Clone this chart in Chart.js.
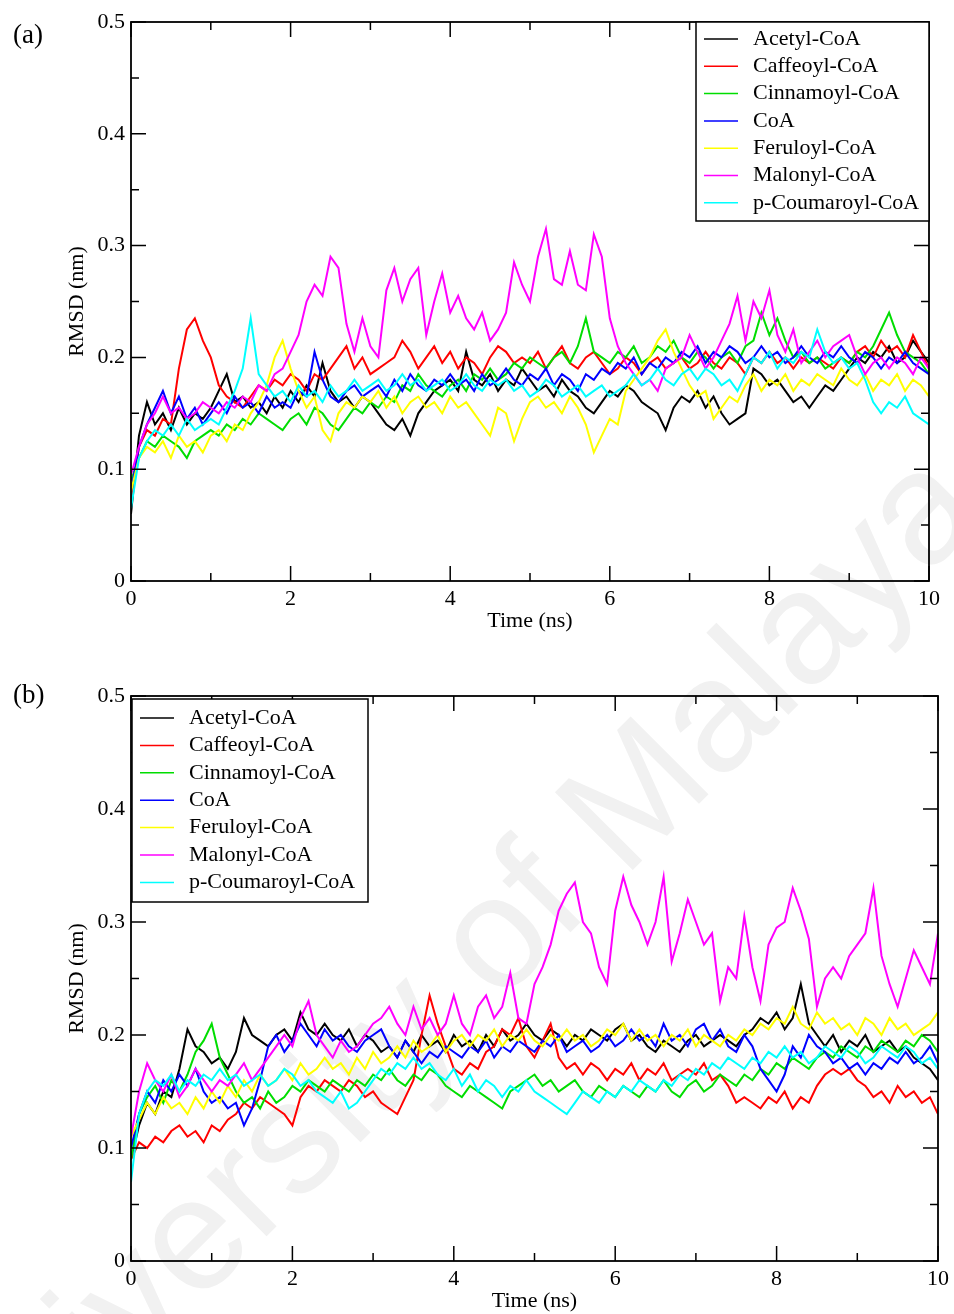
<!DOCTYPE html>
<html>
<head>
<meta charset="utf-8">
<script src="https://cdn.jsdelivr.net/npm/chart.js@4.4.1/dist/chart.umd.min.js"></script>
<style>
  html, body { margin: 0; padding: 0; background: #fff; }
  #page { position: relative; width: 954px; height: 1314px; overflow: hidden; }
  .panel { position: absolute; left: 0; width: 954px; }
  #wm {
    position: absolute; left: 440px; top: 985px;
    transform: translate(-50%, -50%) rotate(-45deg);
    font: 160px 'Liberation Sans', Arial, sans-serif;
    color: #f1f1f1; white-space: nowrap; line-height: 1;
  }
</style>
</head>
<body>
<div id="page">
  <div id="wm">University of Malaya</div>
  <div class="panel" style="top:0;height:640px"><canvas id="chartA"></canvas></div>
  <div class="panel" style="top:660px;height:654px"><canvas id="chartB"></canvas></div>
</div>
<script>
const names = ['Acetyl-CoA', 'Caffeoyl-CoA', 'Cinnamoyl-CoA', 'CoA', 'Feruloyl-CoA', 'Malonyl-CoA', 'p-Coumaroyl-CoA'];
const colors = ['#000000', '#ff0000', '#00dd00', '#0000ff', '#ffff00', '#ff00ff', '#00ffff'];

const xMajor = [0, 2, 4, 6, 8, 10];
const xMinor = [1, 3, 5, 7, 9];
const yMajor = [0, 0.1, 0.2, 0.3, 0.4, 0.5];
const yMinor = [0.05, 0.15, 0.25, 0.35, 0.45];

// time (ns)
const time = [
  0, 0.1, 0.2, 0.3, 0.4, 0.5, 0.6, 0.7, 0.8, 0.9,
  1, 1.1, 1.2, 1.3, 1.4, 1.5, 1.6, 1.7, 1.8, 1.9,
  2, 2.1, 2.2, 2.3, 2.4, 2.5, 2.6, 2.7, 2.8, 2.9,
  3, 3.1, 3.2, 3.3, 3.4, 3.5, 3.6, 3.7, 3.8, 3.9,
  4, 4.1, 4.2, 4.3, 4.4, 4.5, 4.6, 4.7, 4.8, 4.9,
  5, 5.1, 5.2, 5.3, 5.4, 5.5, 5.6, 5.7, 5.8, 5.9,
  6, 6.1, 6.2, 6.3, 6.4, 6.5, 6.6, 6.7, 6.8, 6.9,
  7, 7.1, 7.2, 7.3, 7.4, 7.5, 7.6, 7.7, 7.8, 7.9,
  8, 8.1, 8.2, 8.3, 8.4, 8.5, 8.6, 8.7, 8.8, 8.9,
  9, 9.1, 9.2, 9.3, 9.4, 9.5, 9.6, 9.7, 9.8, 9.9,
  10
];

// panel (a) RMSD (nm)
const acetylA = [
  0.06, 0.13, 0.16, 0.14, 0.15, 0.135, 0.155, 0.14, 0.15, 0.145,
  0.155, 0.17, 0.185, 0.16, 0.165, 0.155, 0.16, 0.15, 0.165, 0.155,
  0.17, 0.16, 0.175, 0.165, 0.195, 0.17, 0.16, 0.165, 0.155, 0.165,
  0.16, 0.15, 0.14, 0.135, 0.145, 0.13, 0.15, 0.16, 0.17, 0.175,
  0.18, 0.17, 0.205, 0.18, 0.175, 0.185, 0.17, 0.18, 0.175, 0.19,
  0.18, 0.17, 0.175, 0.165, 0.18, 0.17, 0.165, 0.155, 0.15, 0.16,
  0.17, 0.165, 0.175, 0.17, 0.16, 0.155, 0.15, 0.135, 0.155, 0.165,
  0.16, 0.17, 0.155, 0.165, 0.15, 0.14, 0.145, 0.15, 0.19, 0.185,
  0.175, 0.18, 0.17, 0.16, 0.165, 0.155, 0.165, 0.175, 0.17, 0.18,
  0.19, 0.2, 0.195, 0.205, 0.2, 0.21, 0.195, 0.2, 0.215, 0.205,
  0.195
];
const caffeoylA = [
  0.07, 0.12, 0.135, 0.13, 0.145, 0.14, 0.19, 0.225, 0.235, 0.215,
  0.2, 0.175, 0.165, 0.16, 0.155, 0.165, 0.175, 0.17, 0.18, 0.175,
  0.185, 0.18, 0.17, 0.185, 0.18, 0.19, 0.2, 0.21, 0.19, 0.2,
  0.185, 0.19, 0.195, 0.2, 0.215, 0.205, 0.19, 0.2, 0.21, 0.195,
  0.205, 0.19, 0.2, 0.195, 0.185, 0.2, 0.21, 0.205, 0.195, 0.2,
  0.195, 0.205, 0.19, 0.2, 0.21, 0.195, 0.19, 0.2, 0.205, 0.195,
  0.185, 0.19, 0.2, 0.195, 0.185, 0.195, 0.2, 0.19, 0.195, 0.2,
  0.19, 0.195, 0.205, 0.195, 0.19, 0.2, 0.195, 0.185, 0.2, 0.195,
  0.205, 0.195, 0.2, 0.19, 0.2, 0.195, 0.2, 0.195, 0.19, 0.2,
  0.195, 0.205, 0.21, 0.2, 0.215, 0.205, 0.21, 0.2, 0.22, 0.205,
  0.19
];
const cinnamoylA = [
  0.09, 0.11, 0.125, 0.12, 0.13, 0.125, 0.12, 0.11, 0.125, 0.13,
  0.135, 0.13, 0.14, 0.135, 0.145, 0.14, 0.15, 0.145, 0.14, 0.135,
  0.145, 0.15, 0.14, 0.155, 0.15, 0.14, 0.135, 0.145, 0.155, 0.15,
  0.16, 0.155, 0.165, 0.16, 0.175, 0.17, 0.185, 0.175, 0.17, 0.165,
  0.175, 0.18, 0.17, 0.185, 0.18, 0.19, 0.18, 0.185, 0.195, 0.19,
  0.2, 0.195, 0.19, 0.2, 0.205, 0.195, 0.21, 0.235, 0.205, 0.2,
  0.195, 0.205, 0.2, 0.21, 0.195, 0.2, 0.21, 0.205, 0.215, 0.2,
  0.195, 0.205, 0.2, 0.19, 0.2, 0.205, 0.195, 0.21, 0.215, 0.24,
  0.22, 0.235, 0.215, 0.2, 0.205, 0.195, 0.2, 0.19, 0.195, 0.2,
  0.195, 0.205, 0.2, 0.21, 0.225, 0.24, 0.22, 0.205, 0.2, 0.195,
  0.185
];
const coaA = [
  0.08, 0.12, 0.14, 0.155, 0.17, 0.15, 0.165, 0.145, 0.155, 0.14,
  0.15, 0.16, 0.15, 0.165, 0.155, 0.16, 0.15, 0.165, 0.155, 0.16,
  0.155, 0.17, 0.165, 0.205, 0.18, 0.165, 0.16, 0.17, 0.175, 0.165,
  0.17, 0.175, 0.165, 0.18, 0.17, 0.185, 0.175, 0.17, 0.18, 0.175,
  0.185, 0.175, 0.18, 0.17, 0.185, 0.175, 0.18, 0.19, 0.18, 0.175,
  0.185, 0.18, 0.19, 0.175, 0.185, 0.18, 0.17, 0.185, 0.18, 0.19,
  0.185, 0.195, 0.19, 0.2, 0.185, 0.195, 0.19, 0.2, 0.195, 0.205,
  0.2, 0.21, 0.195, 0.205, 0.2, 0.21, 0.205, 0.195, 0.2, 0.21,
  0.2, 0.205, 0.195, 0.2, 0.21, 0.2, 0.195, 0.205, 0.2, 0.21,
  0.2, 0.195, 0.205, 0.2, 0.19, 0.2, 0.195, 0.205, 0.195, 0.19,
  0.185
];
const feruloylA = [
  0.08, 0.11, 0.12, 0.115, 0.125, 0.11, 0.13, 0.12, 0.125, 0.115,
  0.13, 0.135, 0.125, 0.14, 0.135, 0.15, 0.16, 0.175, 0.2, 0.215,
  0.19, 0.17, 0.155, 0.165, 0.135, 0.125, 0.15, 0.16, 0.155, 0.165,
  0.16, 0.17, 0.155, 0.165, 0.15, 0.16, 0.165, 0.155, 0.16, 0.15,
  0.165, 0.155, 0.16, 0.15, 0.14, 0.13, 0.155, 0.15, 0.125, 0.145,
  0.16, 0.165, 0.155, 0.16, 0.15, 0.165, 0.155, 0.14, 0.115, 0.13,
  0.145, 0.14, 0.17, 0.18, 0.19, 0.2, 0.215, 0.225, 0.205, 0.19,
  0.175, 0.165, 0.17, 0.145, 0.155, 0.165, 0.16, 0.175, 0.185, 0.17,
  0.18, 0.175, 0.185, 0.17, 0.18, 0.175, 0.185, 0.18, 0.175, 0.19,
  0.18, 0.175, 0.185, 0.17, 0.18, 0.175, 0.185, 0.17, 0.18, 0.175,
  0.165
];
const malonylA = [
  0.095, 0.12, 0.14, 0.15, 0.165, 0.15, 0.155, 0.145, 0.15, 0.16,
  0.155, 0.15, 0.16, 0.155, 0.165, 0.16, 0.175, 0.17, 0.185, 0.19,
  0.205, 0.22, 0.25, 0.265, 0.255, 0.29, 0.28, 0.23, 0.205, 0.235,
  0.21, 0.2, 0.26, 0.28, 0.25, 0.27, 0.28, 0.22, 0.25, 0.275,
  0.24, 0.255, 0.235, 0.225, 0.24, 0.215, 0.225, 0.24, 0.285, 0.265,
  0.25, 0.29, 0.315, 0.27, 0.265, 0.295, 0.265, 0.26, 0.31, 0.29,
  0.235, 0.21, 0.195, 0.185, 0.175, 0.18, 0.17, 0.19, 0.195, 0.2,
  0.22, 0.205, 0.19, 0.2, 0.215, 0.23, 0.255, 0.215, 0.25, 0.235,
  0.26, 0.22, 0.205, 0.225, 0.195, 0.205, 0.215, 0.2, 0.21, 0.215,
  0.22, 0.2, 0.185, 0.195, 0.2, 0.19, 0.2, 0.195, 0.185, 0.2,
  0.19
];
const coumaroylA = [
  0.065, 0.11, 0.125, 0.135, 0.13, 0.14, 0.13, 0.145, 0.135, 0.14,
  0.145, 0.14, 0.155, 0.17, 0.19, 0.235, 0.185, 0.175, 0.165, 0.17,
  0.16, 0.175, 0.165, 0.17, 0.16, 0.175, 0.165, 0.17, 0.18, 0.17,
  0.175, 0.18, 0.17, 0.175, 0.185, 0.175, 0.18, 0.17, 0.175, 0.18,
  0.17, 0.175, 0.185, 0.175, 0.17, 0.18, 0.175, 0.18, 0.17, 0.175,
  0.165, 0.17, 0.18, 0.175, 0.165, 0.17, 0.175, 0.165, 0.17, 0.175,
  0.165, 0.17, 0.175, 0.185, 0.175, 0.18, 0.19, 0.18, 0.175, 0.185,
  0.19, 0.18, 0.19, 0.185, 0.175, 0.18, 0.17, 0.185, 0.2, 0.195,
  0.205, 0.19, 0.2, 0.195, 0.205, 0.2, 0.225, 0.205, 0.195, 0.2,
  0.19, 0.195, 0.18, 0.16, 0.15, 0.16, 0.155, 0.165, 0.15, 0.145,
  0.14
];

// panel (b) RMSD (nm)
const acetylB = [
  0.09, 0.12, 0.14, 0.13, 0.15, 0.145, 0.17, 0.205, 0.19, 0.185,
  0.175, 0.18, 0.17, 0.185, 0.215, 0.2, 0.195, 0.19, 0.2, 0.205,
  0.195, 0.22, 0.205, 0.2, 0.21, 0.2, 0.195, 0.205, 0.19, 0.2,
  0.195, 0.185, 0.19, 0.18, 0.195, 0.185, 0.2, 0.19, 0.195, 0.185,
  0.2, 0.19, 0.195, 0.185, 0.2, 0.19, 0.205, 0.195, 0.2, 0.21,
  0.2, 0.195, 0.205, 0.2, 0.19, 0.2, 0.195, 0.205, 0.2, 0.195,
  0.205, 0.21, 0.195, 0.2, 0.19, 0.185, 0.195, 0.19, 0.185, 0.195,
  0.2, 0.19, 0.195, 0.2, 0.195, 0.19, 0.2, 0.205, 0.215, 0.21,
  0.22, 0.205, 0.215, 0.245, 0.21, 0.2, 0.19, 0.2, 0.185, 0.195,
  0.19, 0.2, 0.185, 0.19, 0.195, 0.185, 0.19, 0.18, 0.175, 0.17,
  0.16
];
const caffeoylB = [
  0.09, 0.105, 0.1, 0.11, 0.105, 0.115, 0.12, 0.11, 0.115, 0.105,
  0.12, 0.115, 0.125, 0.13, 0.14, 0.135, 0.145, 0.14, 0.135, 0.13,
  0.12, 0.145, 0.155, 0.15, 0.16, 0.155, 0.15, 0.16, 0.155, 0.145,
  0.15, 0.14, 0.135, 0.13, 0.145, 0.16, 0.2, 0.235, 0.21, 0.19,
  0.17, 0.165, 0.175, 0.17, 0.185, 0.19, 0.205, 0.2, 0.215, 0.19,
  0.18, 0.195, 0.21, 0.18, 0.17, 0.175, 0.165, 0.175, 0.17, 0.16,
  0.17, 0.165, 0.175, 0.16, 0.17, 0.165, 0.175, 0.16, 0.165, 0.17,
  0.165, 0.175, 0.16, 0.165, 0.155, 0.14, 0.145, 0.14, 0.135, 0.145,
  0.14, 0.15, 0.135, 0.145, 0.14, 0.155, 0.165, 0.17, 0.165, 0.17,
  0.16, 0.155, 0.145, 0.15, 0.14, 0.155, 0.145, 0.15, 0.14, 0.145,
  0.13
];
const cinnamoylB = [
  0.09, 0.13, 0.145, 0.155, 0.14, 0.16, 0.15, 0.165, 0.185, 0.195,
  0.21, 0.18, 0.165, 0.15, 0.14, 0.145, 0.135, 0.15, 0.14, 0.145,
  0.155, 0.15, 0.16, 0.155, 0.15, 0.16, 0.155, 0.15, 0.16, 0.155,
  0.165, 0.16, 0.17, 0.16, 0.155, 0.165, 0.16, 0.17, 0.165, 0.155,
  0.15, 0.145, 0.155, 0.15, 0.145, 0.14, 0.135, 0.15, 0.155, 0.16,
  0.165, 0.155, 0.16, 0.15, 0.155, 0.16, 0.15, 0.145, 0.155, 0.15,
  0.145, 0.155, 0.15, 0.145, 0.155, 0.15, 0.16, 0.15, 0.145, 0.155,
  0.16, 0.15, 0.155, 0.165, 0.16, 0.155, 0.165, 0.16, 0.17, 0.165,
  0.175, 0.17, 0.18, 0.175, 0.17, 0.18, 0.185, 0.18, 0.19, 0.185,
  0.18, 0.19, 0.185, 0.195, 0.19, 0.185, 0.195, 0.19, 0.2, 0.195,
  0.185
];
const coaB = [
  0.1, 0.13, 0.15, 0.14, 0.16, 0.15, 0.165, 0.155, 0.17, 0.15,
  0.14, 0.145, 0.135, 0.14, 0.12, 0.135, 0.16, 0.19, 0.2, 0.185,
  0.195, 0.21, 0.2, 0.19, 0.205, 0.195, 0.2, 0.19, 0.185, 0.195,
  0.2, 0.205, 0.19, 0.18, 0.195, 0.185, 0.175, 0.185, 0.18, 0.19,
  0.185, 0.18, 0.19, 0.185, 0.195, 0.18, 0.19, 0.185, 0.195, 0.19,
  0.185, 0.195, 0.19, 0.2, 0.185, 0.19, 0.195, 0.185, 0.19, 0.2,
  0.19, 0.195, 0.205, 0.195, 0.2, 0.19, 0.21, 0.195, 0.2, 0.19,
  0.205, 0.21, 0.195, 0.205, 0.19, 0.185, 0.2, 0.19, 0.17, 0.16,
  0.15, 0.165, 0.19, 0.18, 0.2, 0.19, 0.185, 0.175, 0.18, 0.17,
  0.175, 0.165, 0.175, 0.17, 0.18, 0.175, 0.185, 0.175, 0.18, 0.19,
  0.175
];
const feruloylB = [
  0.11, 0.125, 0.14, 0.13, 0.145, 0.135, 0.14, 0.13, 0.145, 0.135,
  0.15, 0.14, 0.155, 0.145, 0.16, 0.15, 0.165, 0.155, 0.16, 0.17,
  0.16, 0.175, 0.165, 0.17, 0.18, 0.17, 0.175, 0.165, 0.18, 0.17,
  0.185, 0.175, 0.18, 0.19, 0.18, 0.195, 0.185, 0.19, 0.2, 0.185,
  0.195, 0.2, 0.19, 0.2, 0.195, 0.205, 0.19, 0.2, 0.195, 0.205,
  0.195, 0.19, 0.2, 0.195, 0.205, 0.195, 0.2, 0.19, 0.195, 0.205,
  0.2, 0.21, 0.195, 0.205, 0.195, 0.2, 0.19, 0.2, 0.195, 0.205,
  0.19, 0.2, 0.195, 0.19, 0.2, 0.195, 0.205, 0.2, 0.21, 0.205,
  0.215, 0.21, 0.225, 0.21, 0.205, 0.22, 0.21, 0.215, 0.205, 0.21,
  0.2, 0.215, 0.21, 0.2, 0.215, 0.205, 0.21, 0.2, 0.205, 0.21,
  0.22
];
const malonylB = [
  0.11, 0.15, 0.175, 0.16, 0.15, 0.165, 0.145, 0.155, 0.17, 0.16,
  0.15, 0.16, 0.155, 0.165, 0.175, 0.16, 0.17, 0.18, 0.19, 0.2,
  0.19, 0.215, 0.23, 0.2, 0.19, 0.18, 0.195, 0.185, 0.19, 0.2,
  0.21, 0.215, 0.225, 0.21, 0.2, 0.225, 0.205, 0.215, 0.2, 0.21,
  0.235, 0.21, 0.2, 0.225, 0.235, 0.215, 0.225, 0.255, 0.215, 0.21,
  0.245, 0.26, 0.28, 0.31, 0.325, 0.335, 0.3, 0.29, 0.26, 0.245,
  0.31, 0.34, 0.315, 0.3, 0.28, 0.3, 0.34, 0.265, 0.29, 0.32,
  0.3, 0.28, 0.29, 0.23, 0.26, 0.25, 0.305, 0.26, 0.23, 0.28,
  0.295, 0.3, 0.33, 0.31, 0.285, 0.225, 0.25, 0.26, 0.25, 0.27,
  0.28, 0.29, 0.33, 0.27, 0.245, 0.225, 0.25, 0.275, 0.26, 0.245,
  0.29
];
const coumaroylB = [
  0.07, 0.13, 0.15, 0.16, 0.155, 0.165, 0.15, 0.16, 0.155, 0.165,
  0.16, 0.17, 0.16, 0.165, 0.155, 0.16, 0.165, 0.155, 0.16, 0.17,
  0.165, 0.155, 0.16, 0.15, 0.145, 0.14, 0.15, 0.135, 0.14, 0.15,
  0.16, 0.17, 0.165, 0.175, 0.17, 0.18, 0.17, 0.175, 0.165, 0.16,
  0.17, 0.155, 0.165, 0.15, 0.16, 0.155, 0.145, 0.155, 0.15, 0.16,
  0.15, 0.145, 0.14, 0.135, 0.13, 0.14, 0.15, 0.145, 0.14, 0.15,
  0.145, 0.155, 0.15, 0.16, 0.155, 0.15, 0.16, 0.155, 0.165, 0.16,
  0.17, 0.165, 0.175, 0.17, 0.18, 0.175, 0.17, 0.18, 0.175, 0.185,
  0.18, 0.19, 0.18, 0.185, 0.175, 0.18, 0.19, 0.185, 0.18, 0.19,
  0.185, 0.175, 0.18, 0.19, 0.185, 0.18, 0.19, 0.185, 0.175, 0.18,
  0.17
];

const serif = "'Liberation Serif', 'Times New Roman', serif";
const font = { family: serif, size: 22 };

// frame with inward ticks, boxed legend and panel tag
const decor = {
  id: 'decor',
  afterDatasetsDraw(chart, args, o) {
    const { ctx, chartArea: a, scales: { x, y } } = chart;
    ctx.save();
    ctx.strokeStyle = '#000';
    ctx.lineWidth = 1.5;
    ctx.beginPath();
    const xTick = (v, len) => {
      const p = x.getPixelForValue(v);
      ctx.moveTo(p, a.bottom); ctx.lineTo(p, a.bottom - len);
      ctx.moveTo(p, a.top); ctx.lineTo(p, a.top + len);
    };
    const yTick = (v, len) => {
      const p = y.getPixelForValue(v);
      ctx.moveTo(a.left, p); ctx.lineTo(a.left + len, p);
      ctx.moveTo(a.right, p); ctx.lineTo(a.right - len, p);
    };
    xMajor.forEach(v => xTick(v, 15));
    xMinor.forEach(v => xTick(v, 8));
    yMajor.forEach(v => yTick(v, 15));
    yMinor.forEach(v => yTick(v, 8));
    ctx.stroke();
    ctx.lineWidth = 1.8;
    ctx.strokeRect(a.left, a.top, a.right - a.left, a.bottom - a.top);

    const lg = o.legend;
    const bx = lg.right ? a.right - lg.w : a.left + 1;
    const by = a.top + lg.dy;
    ctx.fillStyle = '#fff';
    ctx.fillRect(bx, by, lg.w, lg.h);
    ctx.lineWidth = 1.5;
    ctx.strokeStyle = '#000';
    ctx.strokeRect(bx, by, lg.w, lg.h);
    ctx.font = `22px ${serif}`;
    ctx.textBaseline = 'middle';
    ctx.textAlign = 'left';
    chart.data.datasets.forEach((ds, i) => {
      const ry = by + lg.first + i * lg.step;
      ctx.strokeStyle = ds.borderColor;
      ctx.beginPath();
      ctx.moveTo(bx + 8, ry);
      ctx.lineTo(bx + 42, ry);
      ctx.stroke();
      ctx.fillStyle = '#000';
      ctx.fillText(ds.label, bx + 57, ry);
    });

    ctx.font = `27px ${serif}`;
    ctx.fillStyle = '#000';
    ctx.fillText(o.tag, 13, 36);
    ctx.restore();
  }
};

function makeChart(id, series, opt) {
  return new Chart(document.getElementById(id), {
    type: 'line',
    data: {
      datasets: series.map((vals, i) => ({
        label: names[i],
        data: vals.map((v, j) => ({ x: time[j], y: v })),
        borderColor: colors[i],
        borderWidth: 2,
        pointRadius: 0,
        tension: 0,
        fill: false,
        order: series.length - i
      }))
    },
    options: {
      responsive: true,
      maintainAspectRatio: false,
      animation: false,
      layout: { padding: opt.padding },
      plugins: {
        legend: { display: false },
        tooltip: { enabled: false },
        decor: opt.decor
      },
      scales: {
        x: {
          type: 'linear',
          min: 0,
          max: 10,
          grid: { display: false, drawTicks: false },
          border: { display: false },
          afterBuildTicks: s => { s.ticks = xMajor.map(v => ({ value: v })); },
          afterFit: s => { s.height = opt.xHeight; },
          ticks: { font, color: '#000', padding: 5, maxRotation: 0, autoSkip: false, callback: v => String(v) },
          title: { display: true, text: 'Time (ns)', font, color: '#000', padding: { top: 0, bottom: opt.titlePad } }
        },
        y: {
          min: 0,
          max: 0.5,
          grid: { display: false, drawTicks: false },
          border: { display: false },
          afterBuildTicks: s => { s.ticks = yMajor.map(v => ({ value: v })); },
          afterFit: s => { s.width = 131; },
          ticks: { font, color: '#000', padding: 6, callback: v => (v === 0 ? '0' : v.toFixed(1)) },
          title: { display: true, text: 'RMSD (nm)', font, color: '#000', padding: { top: 64, bottom: 0 } }
        }
      }
    },
    plugins: [decor]
  });
}

makeChart('chartA', [acetylA, caffeoylA, cinnamoylA, coaA, feruloylA, malonylA, coumaroylA], {
  padding: { top: 22, right: 25, left: 0, bottom: 0 },
  xHeight: 59,
  titlePad: 6,
  decor: { tag: '(a)', legend: { right: true, w: 233, h: 199, dy: 0, first: 17, step: 27.3 } }
});

makeChart('chartB', [acetylB, caffeoylB, cinnamoylB, coaB, feruloylB, malonylB, coumaroylB], {
  padding: { top: 36, right: 13, left: 0, bottom: 0 },
  xHeight: 53,
  titlePad: 0,
  decor: { tag: '(b)', legend: { right: false, w: 236, h: 203, dy: 3, first: 19, step: 27.4 } }
});
</script>
</body>
</html>
